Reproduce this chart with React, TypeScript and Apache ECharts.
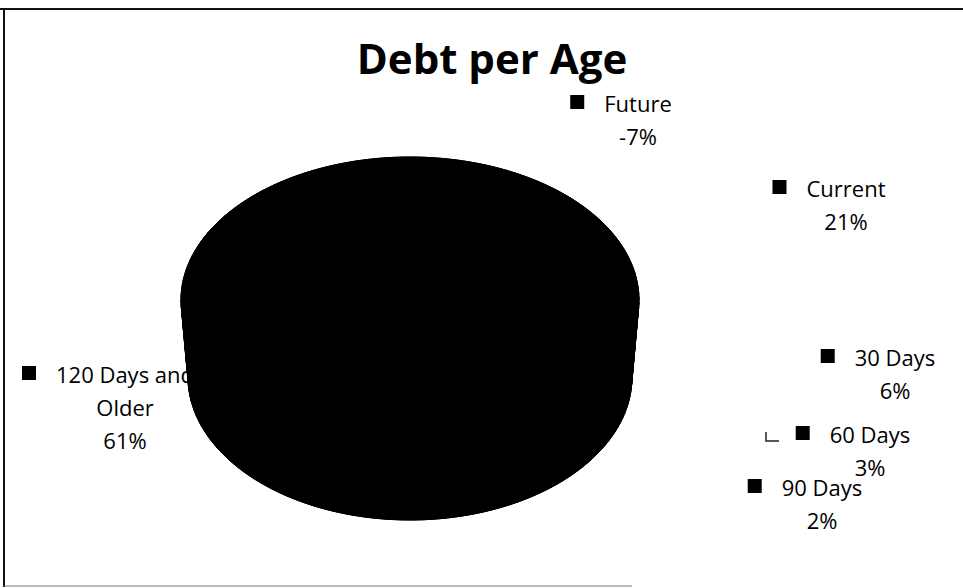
import React, { useEffect, useRef } from 'react';
import * as echarts from 'echarts';

// ---- data ----
const titleText = 'Debt per Age';
const categories = ['Future', 'Current', '30 Days', '60 Days', '90 Days', '120 Days and Older'];
const percentValues = [-7, 21, 6, 3, 2, 61];

// ---- layout (kept apart from data) ----
// centre x of label text, centre y of its first line
const labelAnchors: number[][] = [
  [638, 103],
  [846, 188],
  [895, 357],
  [870, 434],
  [822, 487],
  [125, 374],
];
const LABEL_FONT = '"Open Sans", sans-serif';
const LABEL_SIZE = 22;
const LABEL_LINE = 33;
const LABEL_WRAP = 150;

const PIE = { cx: 410, topCy: 300, rx: 229, ry: 143, botCy: 377, rxB: 222, ryB: 143 };

const magnitudes = percentValues.map((v) => Math.abs(v));
const total = magnitudes.reduce((a, b) => a + b, 0);
const startAngles: number[] = [];
{
  let acc = 0;
  magnitudes.forEach((m) => {
    startAngles.push((acc / total) * Math.PI * 2);
    acc += m;
  });
}

function measure(text: string): number {
  const c = document.createElement('canvas').getContext('2d');
  if (!c) return text.length * LABEL_SIZE * 0.55;
  c.font = `${LABEL_SIZE}px ${LABEL_FONT}`;
  return c.measureText(text).width;
}

function wrap(text: string): string[] {
  const words = text.split(' ');
  const lines: string[] = [];
  let cur = '';
  words.forEach((w) => {
    const test = cur ? cur + ' ' + w : w;
    if (cur && measure(test) > LABEL_WRAP) {
      lines.push(cur);
      cur = w;
    } else cur = test;
  });
  if (cur) lines.push(cur);
  return lines;
}

function buildLabels(): any[] {
  const els: any[] = [];
  categories.forEach((name, i) => {
    const [cx, y1] = labelAnchors[i];
    const lines = [...wrap(name), `${percentValues[i]}%`];
    lines.forEach((ln, k) => {
      els.push({
        type: 'text',
        z: 1,
        x: cx,
        y: y1 + k * LABEL_LINE,
        style: {
          text: ln,
          fill: '#000',
          font: `${LABEL_SIZE}px ${LABEL_FONT}`,
          textAlign: 'center',
          textVerticalAlign: 'middle',
        },
      });
    });
    const w0 = measure(lines[0]);
    const sqCx = cx - w0 / 2 - 27;
    els.push({
      type: 'rect',
      z: 1,
      shape: { x: sqCx - 7, y: y1 - 8, width: 14, height: 14 },
      style: { fill: '#000' },
    });
  });
  return els;
}

export default function App() {
  const ref = useRef<HTMLDivElement>(null);
  useEffect(() => {
    if (!ref.current) return;
    const chart = echarts.init(ref.current, undefined, { renderer: 'svg' });
    const fillStyle = { fill: '#000', stroke: '#000', lineWidth: 1 };
    chart.setOption({
      animation: false,
      backgroundColor: '#fff',
      graphic: [
        // frame
        { type: 'line', z: 1, shape: { x1: 0, y1: 9, x2: 963, y2: 9 }, style: { stroke: '#111', lineWidth: 2 } },
        { type: 'line', z: 1, shape: { x1: 4, y1: 9, x2: 4, y2: 587 }, style: { stroke: '#111', lineWidth: 2 } },
        { type: 'line', z: 1, shape: { x1: 4, y1: 586, x2: 632, y2: 586 }, style: { stroke: '#777', lineWidth: 1 } },
        // title
        {
          type: 'text',
          z: 1,
          x: 492,
          y: 57,
          style: {
            text: titleText,
            fill: '#000',
            font: 'bold 42px "Open Sans", sans-serif',
            textAlign: 'center',
            textVerticalAlign: 'middle',
          },
        },
        // leader line for 60 Days
        {
          type: 'polyline',
          z: 1,
          shape: { points: [[766, 432], [766, 441], [779, 441]] },
          style: { stroke: '#222', lineWidth: 1.5, fill: null },
        },
        ...buildLabels(),
      ],
      series: [
        {
          type: 'custom',
          coordinateSystem: 'none',
          z: 5,
          data: magnitudes.map((v, i) => ({ name: categories[i], value: v })),
          renderItem: (params: any, api: any) => {
            const i = params.dataIndex;
            const a0 = startAngles[i];
            const a1 = a0 + (api.value(0) / total) * Math.PI * 2;
            const n = Math.max(2, Math.ceil((a1 - a0) / (Math.PI / 90)));
            const top: number[][] = [];
            const bot: number[][] = [];
            for (let k = 0; k <= n; k++) {
              const a = a0 + ((a1 - a0) * k) / n;
              top.push([PIE.cx + PIE.rx * Math.sin(a), PIE.topCy - PIE.ry * Math.cos(a)]);
              bot.push([PIE.cx + PIE.rxB * Math.sin(a), PIE.botCy - PIE.ryB * Math.cos(a)]);
            }
            const walls: any[] = [];
            for (let k = 0; k < n; k++) {
              walls.push({
                type: 'polygon',
                shape: { points: [top[k], top[k + 1], bot[k + 1], bot[k]] },
                style: fillStyle,
              });
            }
            return {
              type: 'group',
              children: [
                { type: 'polygon', shape: { points: [[PIE.cx, PIE.botCy], ...bot] }, style: fillStyle },
                ...walls,
                { type: 'polygon', shape: { points: [[PIE.cx, PIE.topCy], ...top] }, style: fillStyle },
              ],
            };
          },
        },
      ],
    });
    return () => chart.dispose();
  }, []);
  return (
    <div
      ref={ref}
      style={{ position: 'fixed', left: 0, top: 0, width: 963, height: 588, background: '#fff' }}
    />
  );
}
